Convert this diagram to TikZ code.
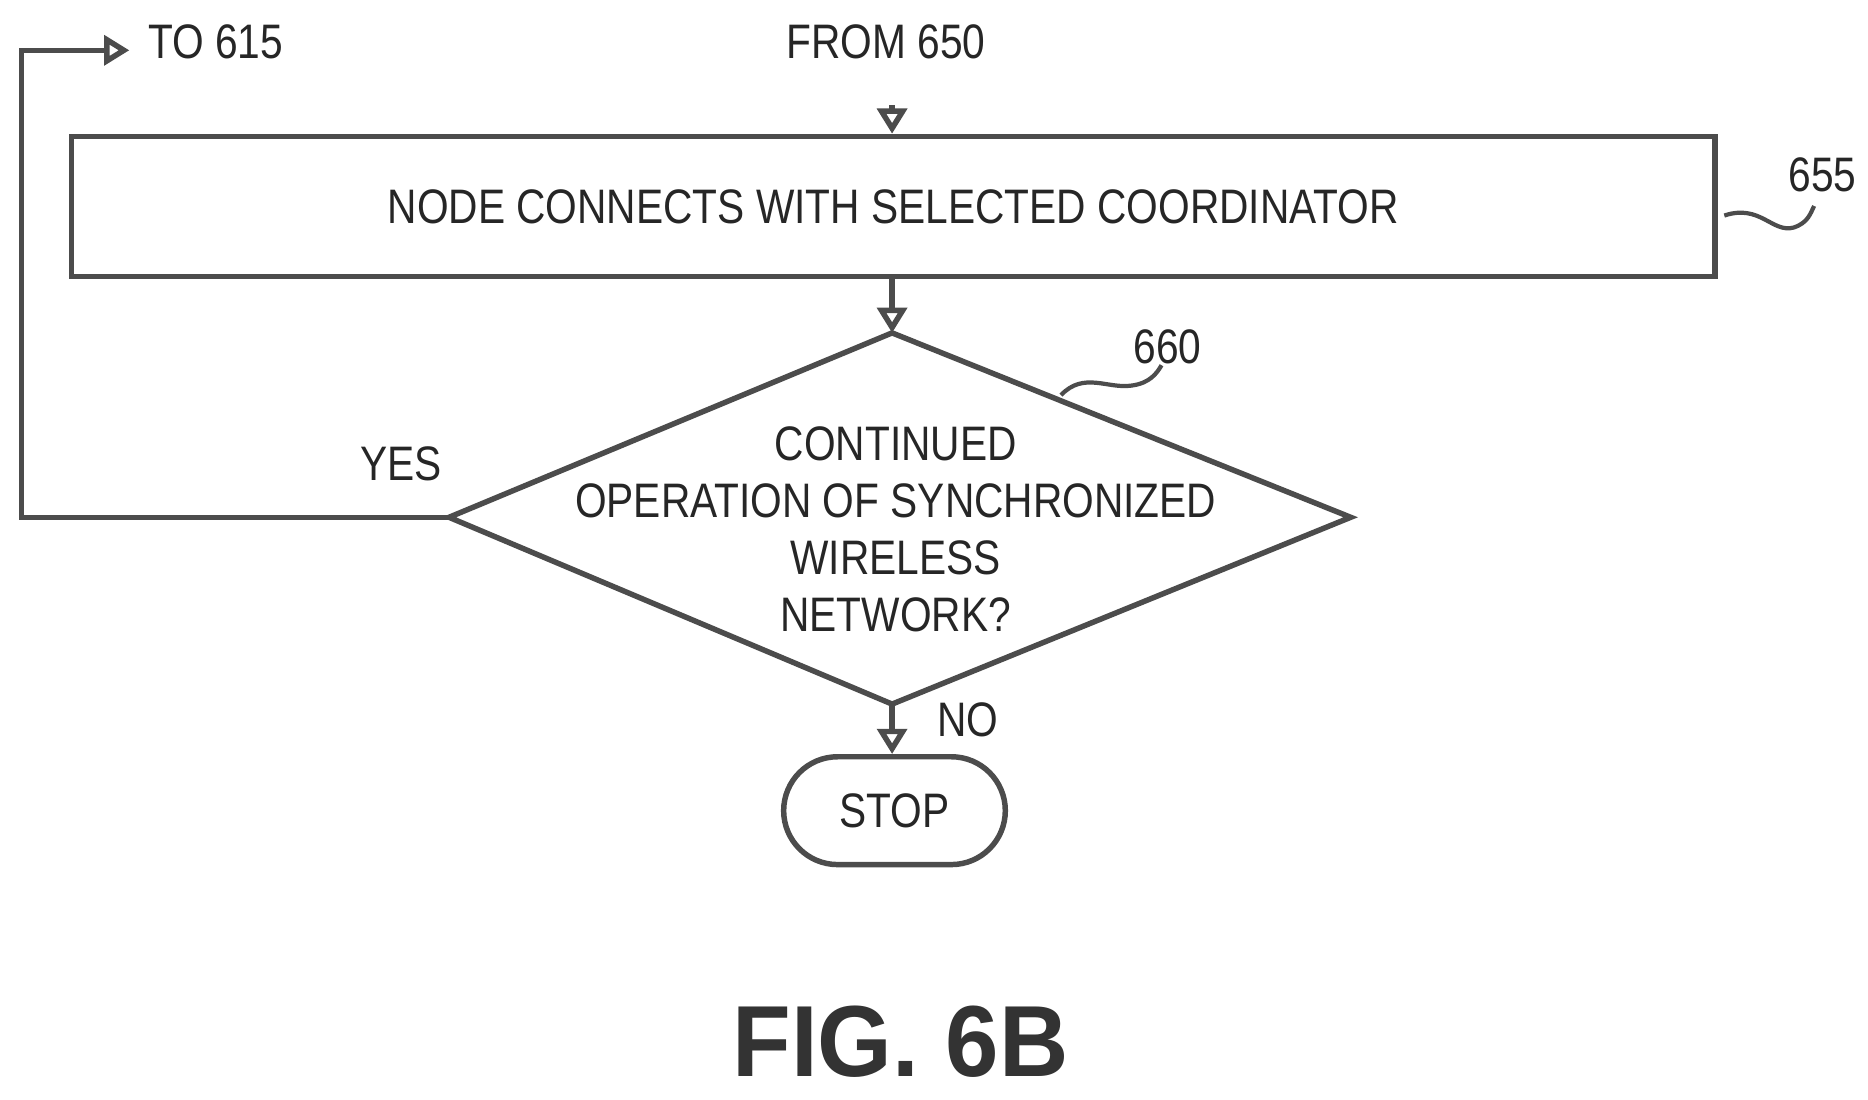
\documentclass[tikz,border=0pt]{standalone}
\usepackage{fontspec}
\setmainfont{Liberation Sans}[FakeStretch=0.84]
\newfontfamily\figfont{Liberation Sans}[FakeStretch=0.95]
\usetikzlibrary{shapes.geometric,arrows.meta,decorations.pathmorphing}
\begin{document}
\begin{tikzpicture}[x=0.01cm,y=-0.01cm,
  ln/.style={draw=black!70,line width=1.3pt},
  arr/.style={ln,-{Triangle[open,length=6pt,width=7pt]}},
  txt/.style={font=\fontsize{11.5pt}{13.6pt}\selectfont,text=black!85,align=center},
  sq/.style={draw=black!70,line width=1pt}]
\useasboundingbox (0,0) rectangle (1560,918);
\node[ln,txt,minimum width=13.72cm,minimum height=1.17cm] (b655) at (746,172.5) {NODE CONNECTS WITH SELECTED COORDINATOR};
\coordinate (dt) at (745,278);
\coordinate (dl) at (375,432);
\coordinate (dr) at (1128,432);
\coordinate (db) at (745,588);
\draw[ln] (dt) -- (dr) -- (db) -- (dl) -- cycle;
\node[txt,inner sep=0pt] (d660) at (748,442) {CONTINUED\\OPERATION OF SYNCHRONIZED\\WIRELESS\\NETWORK?};
\node[ln,txt,rounded corners=0.45cm,minimum width=1.85cm,minimum height=0.9cm] (stop) at (747,677) {STOP};
\node[txt] (from) at (740,35) {FROM 650};
\node[txt] (to) at (180,35) {TO 615};
\node[txt] (yes) at (335,387) {YES};
\node[txt] (no) at (808,601) {NO};
\node[txt] (l655) at (1522,146) {655};
\node[txt] (l660) at (975,290) {660};
\node[font=\figfont\bfseries\fontsize{24pt}{28pt}\selectfont,text=black!80] (fig) at (752,870) {FIG. 6B};
\coordinate (fa) at (745,88);
\draw[arr] (fa) -- (b655.north -| fa);
\draw[arr] (b655.south -| dt) -- (dt);
\draw[arr] (db) -- (stop.north -| db);
\coordinate (c1) at (18,432);
\coordinate (c2) at (18,42);
\coordinate (c3) at (108,42);
\draw[arr] (dl) -- (c1) -- (c2) -- (c3);
\draw[sq] (1440,180) .. controls (1470,170) and (1480,195) .. (1498,190) .. controls (1510,186) and (1512,178) .. (1515,172);
\draw[sq] (886,330) .. controls (905,310) and (925,325) .. (945,322) .. controls (960,320) and (966,312) .. (970,305);
\end{tikzpicture}
\end{document}
